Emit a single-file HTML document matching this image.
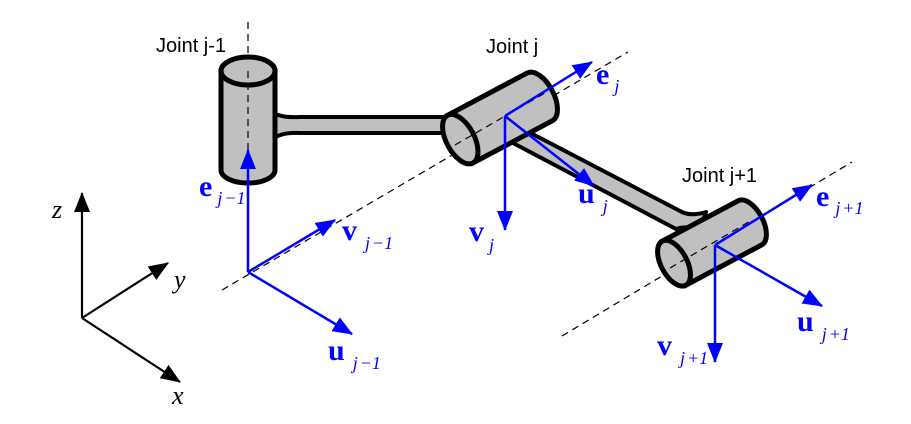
<!DOCTYPE html>
<html><head><meta charset="utf-8"><style>
html,body{margin:0;padding:0;background:#fff;}
svg{display:block;}
.lab{font-family:"Liberation Sans",sans-serif;font-size:20px;fill:#000;}
.bv{font-family:"Liberation Serif",serif;font-weight:bold;font-size:30px;fill:#0000ff;}
.sub{font-family:"Liberation Serif",serif;font-style:italic;font-weight:normal;font-size:18px;fill:#0000ff;}
.ax{font-family:"Liberation Serif",serif;font-style:italic;font-size:26px;fill:#000;}
</style></head><body>
<svg width="911" height="424" viewBox="0 0 911 424" xmlns="http://www.w3.org/2000/svg">
<defs>
<marker id="abig" markerWidth="20" markerHeight="16" refX="19" refY="8" orient="auto" markerUnits="userSpaceOnUse"><path d="M0,0 L20,8 L0,16 Z" fill="#0000ff"/></marker>
<marker id="ak" markerWidth="20" markerHeight="16" refX="19" refY="8" orient="auto" markerUnits="userSpaceOnUse"><path d="M0,0 L20,8 L0,16 Z" fill="#000"/></marker>
</defs>

<g stroke="#000" stroke-width="1.2" stroke-dasharray="7,5" fill="none">
<line x1="248" y1="22" x2="248" y2="272"/>
<line x1="222" y1="290" x2="628" y2="52"/>
<line x1="562" y1="336" x2="852" y2="162"/>
</g>

<path d="M272,112 Q280,118 300,117 L460,117 L460,133 L300,133 Q280,132 272,140" fill="#c0c0c0" stroke="#000" stroke-width="4"/>
<path d="M500,117 L680,211 Q690,217 706,212 L699,231 Q688,225 676,229 L494,133 Z" fill="#c0c0c0" stroke="#000" stroke-width="4" stroke-linejoin="round"/>

<g stroke="#000" stroke-width="5" fill="#c0c0c0">
<path d="M221,71 L221,170 A27,13 0 0 0 275,170 L275,71 Z"/>
<ellipse cx="248" cy="71" rx="27" ry="14"/>
</g>

<g transform="translate(500,118) rotate(-28)" stroke="#000" stroke-width="5" fill="#c0c0c0">
<path d="M-45,-27 L45,-27 A14,27 0 0 1 45,27 L-45,27 Z"/>
<ellipse cx="-45" cy="0" rx="14" ry="27"/>
</g>

<g transform="translate(712,243) rotate(-28)" stroke="#000" stroke-width="5" fill="#c0c0c0">
<path d="M-43,-25 L43,-25 A13,25 0 0 1 43,25 L-43,25 Z"/>
<ellipse cx="-43" cy="0" rx="13" ry="25"/>
</g>

<g stroke="#000" stroke-width="1.2" stroke-dasharray="7,5" fill="none">
<line x1="248" y1="71" x2="248" y2="175"/>
<line x1="455" y1="145" x2="545" y2="93"/>
<line x1="670" y1="268" x2="752" y2="220"/>
</g>

<g stroke="#0000ff" stroke-width="2.5" fill="none">
<line x1="248" y1="272" x2="248" y2="150" marker-end="url(#abig)"/>
<line x1="248" y1="272" x2="335" y2="220" marker-end="url(#abig)"/>
<line x1="248" y1="272" x2="352" y2="334" marker-end="url(#abig)"/>
<line x1="505" y1="116" x2="592" y2="62" marker-end="url(#abig)"/>
<line x1="505" y1="116" x2="594" y2="186" marker-end="url(#abig)"/>
<line x1="505" y1="116" x2="505" y2="230" marker-end="url(#abig)"/>
<line x1="715" y1="245" x2="812" y2="185" marker-end="url(#abig)"/>
<line x1="715" y1="245" x2="822" y2="306" marker-end="url(#abig)"/>
<line x1="715" y1="245" x2="715" y2="362" marker-end="url(#abig)"/>
</g>

<g stroke="#000" stroke-width="2.2">
<line x1="82" y1="318" x2="82" y2="193" marker-end="url(#ak)"/>
<line x1="82" y1="318" x2="168" y2="263" marker-end="url(#ak)"/>
<line x1="82" y1="318" x2="180" y2="382" marker-end="url(#ak)"/>
</g>
<text class="ax" x="52" y="218">z</text>
<text class="ax" x="174" y="288">y</text>
<text class="ax" x="172" y="404">x</text>

<text class="lab" x="156" y="52">Joint j-1</text>
<text class="lab" x="486" y="53">Joint j</text>
<text class="lab" x="682" y="182">Joint j+1</text>

<text class="bv" x="199" y="196">e<tspan class="sub" dx="5" dy="8">j</tspan><tspan class="sub" dx="2">−1</tspan></text>
<text class="bv" x="342" y="240">v<tspan class="sub" dx="8" dy="9">j</tspan><tspan class="sub" dx="2">−1</tspan></text>
<text class="bv" x="328" y="360">u<tspan class="sub" dx="8" dy="9">j</tspan><tspan class="sub" dx="2">−1</tspan></text>
<text class="bv" x="596" y="84">e<tspan class="sub" dx="5" dy="8">j</tspan></text>
<text class="bv" x="578" y="203">u<tspan class="sub" dx="8" dy="9">j</tspan></text>
<text class="bv" x="469" y="241">v<tspan class="sub" dx="5" dy="10">j</tspan></text>
<text class="bv" x="816" y="206">e<tspan class="sub" dx="6" dy="8">j</tspan><tspan class="sub" dx="2">+1</tspan></text>
<text class="bv" x="797" y="331">u<tspan class="sub" dx="8" dy="9">j</tspan><tspan class="sub" dx="2">+1</tspan></text>
<text class="bv" x="657" y="355">v<tspan class="sub" dx="8" dy="9">j</tspan><tspan class="sub" dx="2">+1</tspan></text>
</svg>
</body></html>
